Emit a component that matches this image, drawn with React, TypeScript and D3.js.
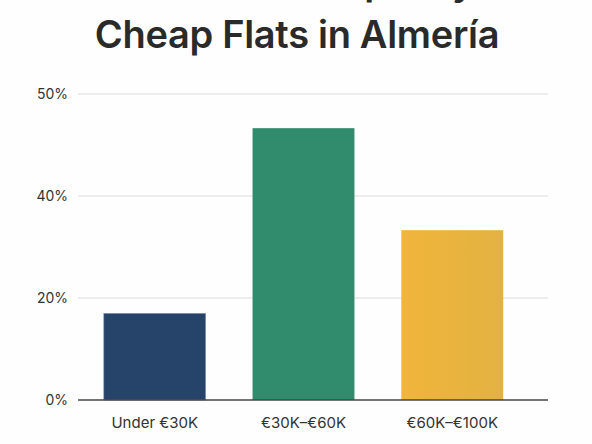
import * as d3 from 'd3'
import React from 'react'

// chart data
const categories = ['Under €30K', '€30K–€60K', '€60K–€100K']
const shares = [17, 53.3, 33.3]
const tickValues = [0, 20, 40, 60]
const tickLabels = ['0%', '20%', '40%', '50%']
const titleLines = ['Price Shares Split by', 'Cheap Flats in Almería']

const W = 592
const H = 444
const fill = ['#26436a', '#318c6e', 'url(#goldGrad)']

const App = () => {
  const x = d3
    .scaleBand<string>()
    .domain(categories)
    .range([80, 527])
    .paddingInner(0.315)
    .paddingOuter(0.16)
  const y = d3.scaleLinear().domain([0, 60]).range([400, 94])

  const font = 'Inter, "Noto Sans", sans-serif'

  return (
    <svg
      width={W}
      height={H}
      style={{ position: 'fixed', left: 0, top: 0, background: '#fefefe' }}
    >
      <defs>
        <linearGradient id='goldGrad' x1='0' x2='1' y1='0' y2='0'>
          <stop offset='0%' stopColor='#f1b53a' />
          <stop offset='100%' stopColor='#e2b242' />
        </linearGradient>
      </defs>
      <rect width={W} height={H} fill='#fefefe' />

      {/* title, first line sits above the frame so only descenders show */}
      <text
        x={474}
        y={-5}
        textAnchor='end'
        fontFamily={font}
        fontSize={38}
        fontWeight={600}
        fill='#2a2a2a'
        letterSpacing={-0.3}
      >
        {titleLines[0]}
      </text>
      <text
        x={297}
        y={48}
        textAnchor='middle'
        fontFamily={font}
        fontSize={38}
        fontWeight={600}
        fill='#2a2a2a'
        letterSpacing={-0.3}
      >
        {titleLines[1]}
      </text>

      {/* gridlines + y labels */}
      {tickValues.map((v, i) => (
        <g key={v} transform={`translate(0, ${y(v)})`}>
          {v !== 0 && <line x1={78} x2={548} stroke='#dcdcdc' strokeWidth={1} />}
          <text
            x={68}
            dy='0.35em'
            textAnchor='end'
            fontFamily={font}
            fontSize={14}
            fill='#333'
          >
            {tickLabels[i]}
          </text>
        </g>
      ))}

      {/* bars */}
      {categories.map((c, i) => (
        <rect
          key={c}
          x={x(c)}
          y={y(shares[i])}
          width={x.bandwidth()}
          height={y(0) - y(shares[i])}
          fill={fill[i]}
          stroke={i === 0 ? '#8a9ab0' : 'none'}
          strokeWidth={0.6}
        />
      ))}

      {/* baseline */}
      <line x1={78} x2={548} y1={y(0)} y2={y(0)} stroke='#444' strokeWidth={1.5} />

      {/* x labels */}
      {categories.map((c) => (
        <text
          key={c}
          x={(x(c) || 0) + x.bandwidth() / 2}
          y={428}
          textAnchor='middle'
          fontFamily={font}
          fontSize={15}
          fill='#333'
        >
          {c}
        </text>
      ))}
    </svg>
  )
}

export default App
